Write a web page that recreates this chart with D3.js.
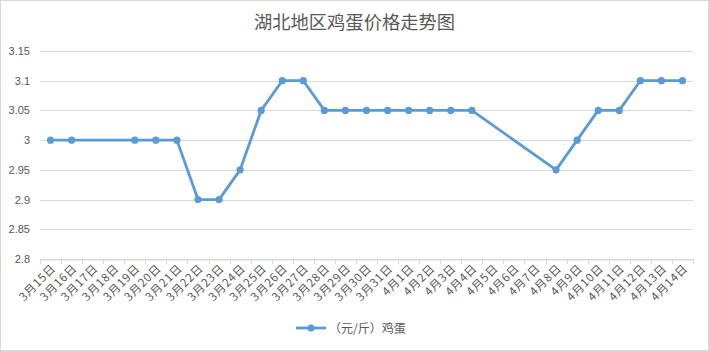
<!DOCTYPE html>
<html>
<head>
<meta charset="utf-8">
<script src="https://cdn.jsdelivr.net/npm/d3@7"></script>
<style>
  html, body { margin: 0; padding: 0; background: #fff; }
  svg text { font-family: "Noto Sans CJK SC", "Microsoft YaHei", sans-serif; }
</style>
</head>
<body>
<div id="chart"></div>
<script>
// x categories: every day from 3/15 to 4/14
var days = ['3月15日','3月16日','3月17日','3月18日','3月19日','3月20日','3月21日','3月22日','3月23日','3月24日',
    '3月25日','3月26日','3月27日','3月28日','3月29日','3月30日','3月31日','4月1日','4月2日','4月3日',
    '4月4日','4月5日','4月6日','4月7日','4月8日','4月9日','4月10日','4月11日','4月12日','4月13日','4月14日'];

// days that have a price, and the price on them
var priceDays = ['3月15日','3月16日','3月19日','3月20日','3月21日','3月22日','3月23日','3月24日','3月25日','3月26日',
    '3月27日','3月28日','3月29日','3月30日','3月31日','4月1日','4月2日','4月3日','4月4日',
    '4月8日','4月9日','4月10日','4月11日','4月12日','4月13日','4月14日'];
var prices = [3, 3, 3, 3, 3, 2.9, 2.9, 2.95, 3.05, 3.1,
    3.1, 3.05, 3.05, 3.05, 3.05, 3.05, 3.05, 3.05, 3.05,
    2.95, 3, 3.05, 3.05, 3.1, 3.1, 3.1];

var yTicks = [2.8, 2.85, 2.9, 2.95, 3, 3.05, 3.1, 3.15];

var title = '湖北地区鸡蛋价格走势图';
var seriesName = '（元/斤）鸡蛋';

var totalWidth = 709, totalHeight = 351;
var margin = { top: 51, right: 16, bottom: 92, left: 40 };
var width = totalWidth - margin.left - margin.right;
var height = totalHeight - margin.top - margin.bottom;
var blue = '#5b9bd5', grey = '#595959';

var svg = d3.select('#chart').append('svg')
    .attr('width', totalWidth)
    .attr('height', totalHeight);

svg.append('rect')
    .attr('x', 0.5).attr('y', 0.5)
    .attr('width', totalWidth - 1).attr('height', totalHeight - 1)
    .attr('fill', '#fff').attr('stroke', '#d9d9d9');

svg.append('text')
    .attr('x', totalWidth / 2).attr('y', 29)
    .attr('text-anchor', 'middle')
    .attr('font-size', 18.3)
    .attr('fill', grey)
    .text(title);

var g = svg.append('g')
    .attr('transform', 'translate(' + margin.left + ',' + margin.top + ')');

var xScale = d3.scaleBand().domain(days).range([0, width]);
var yScale = d3.scaleLinear().domain([2.8, 3.15]).range([height, 0]);

// gridlines
g.selectAll('.grid')
    .data(yTicks)
    .enter()
    .append('line')
    .attr('x1', 0).attr('x2', width)
    .attr('y1', d => Math.round(yScale(d)) + 0.5)
    .attr('y2', d => Math.round(yScale(d)) + 0.5)
    .attr('stroke', '#d9d9d9');

// y axis labels
var yAxis = d3.axisLeft(yScale).tickValues(yTicks).tickSize(0).tickPadding(10)
    .tickFormat(d => d3.format('')(+d.toFixed(2)));
var yAxisGroup = g.append('g').call(yAxis);
yAxisGroup.select('.domain').remove();
yAxisGroup.selectAll('text').attr('fill', grey).attr('font-size', 11)
    .style('font-family', '"Liberation Sans", Arial, sans-serif');

// x axis
var xAxisGroup = g.append('g')
    .attr('transform', 'translate(0,' + (Math.round(height) + 0.5) + ')')
    .call(d3.axisBottom(xScale).tickSize(0).tickPadding(0));
xAxisGroup.select('.domain').attr('stroke', '#d9d9d9');
xAxisGroup.selectAll('.tick text').remove();

// tick marks on band edges
g.selectAll('.xtick')
    .data(days.concat(['end']))
    .enter()
    .append('line')
    .attr('x1', (d, i) => Math.round(i * xScale.step()) + 0.5)
    .attr('x2', (d, i) => Math.round(i * xScale.step()) + 0.5)
    .attr('y1', Math.round(height)).attr('y2', Math.round(height) + 5)
    .attr('stroke', '#d9d9d9');

// rotated labels
g.selectAll('.xlabel')
    .data(days)
    .enter()
    .append('text')
    .attr('text-anchor', 'end')
    .attr('font-size', 11.5)
    .attr('letter-spacing', 0.8)
    .attr('fill', grey)
    .attr('transform', d => 'translate(' + (xScale(d) + xScale.bandwidth() / 2 + 6) + ',' + (height + 10) + ') rotate(-45)')
    .text(d => d);

// line
var points = priceDays.map((d, i) => ({ day: d, price: prices[i] }));
var line = d3.line()
    .x(d => xScale(d.day) + xScale.bandwidth() / 2)
    .y(d => yScale(d.price));

g.append('path')
    .datum(points)
    .attr('d', line)
    .attr('fill', 'none')
    .attr('stroke', blue)
    .attr('stroke-width', 2.8)
    .attr('stroke-linejoin', 'round');

g.selectAll('.pt')
    .data(points)
    .enter()
    .append('circle')
    .attr('cx', d => xScale(d.day) + xScale.bandwidth() / 2)
    .attr('cy', d => yScale(d.price))
    .attr('r', 3.6)
    .attr('fill', blue);

// legend
var legend = svg.append('g').attr('transform', 'translate(296,328)');
legend.append('line').attr('x1', 0).attr('x2', 30).attr('y1', 0).attr('y2', 0)
    .attr('stroke', blue).attr('stroke-width', 2.8);
legend.append('circle').attr('cx', 15).attr('cy', 0).attr('r', 3.6).attr('fill', blue);
legend.append('text').attr('x', 33).attr('y', 4.5)
    .attr('font-size', 12).attr('fill', grey)
    .text(seriesName);
</script>
</body>
</html>
